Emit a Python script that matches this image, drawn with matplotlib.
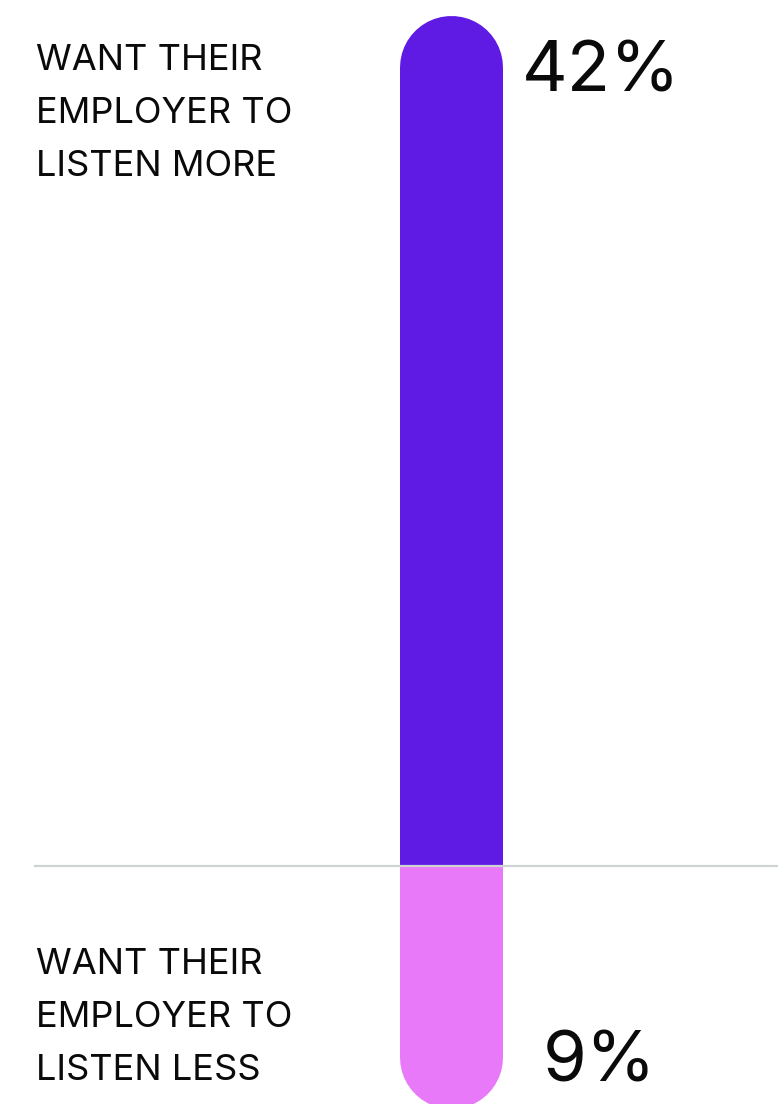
import matplotlib
matplotlib.use('Agg')
import matplotlib.pyplot as plt

labels = ['WANT THEIR\nEMPLOYER TO\nLISTEN MORE', 'WANT THEIR\nEMPLOYER TO\nLISTEN LESS']
values = [42, -9]
value_text = ['42%', '9%']
colors = ['#5F1BE4', '#E879F9']

W, H = 778, 1104
split = 866  # pixel row of the zero line
bar_w = 103  # px
x_bar = 451.5

plt.rcParams['font.family'] = ['Inter', 'DejaVu Sans']

fig = plt.figure(figsize=(W / 100, H / 100), dpi=100)

# upper part (positive) and lower part (negative) each have their own axes
ax_top = fig.add_axes([0, 1 - split / H, 1, split / H])
ax_bot = fig.add_axes([0, 0, 1, 1 - split / H])
for ax in (ax_top, ax_bot):
    ax.set_xlim(0, W)
    ax.axis('off')
ax_top.set_ylim(0, 45.55)
ax_bot.set_ylim(-11.2, 0)

lw = bar_w * 72 / 100
ax_top.plot([x_bar, x_bar], [-5, values[0]], color=colors[0], lw=lw,
            solid_capstyle='round')
ax_bot.plot([x_bar, x_bar], [5, values[1]], color=colors[1], lw=lw,
            solid_capstyle='round')

# zero line
fig.add_artist(plt.Line2D([35 / W, 1], [1 - split / H] * 2, color='#d0d3d4',
                          lw=1.6, transform=fig.transFigure))

# label lines placed one by one so the spacing matches
fs_lab = 26.1
step = 53
for lab, first in zip(labels, [70, 974]):
    for k, line in enumerate(lab.split('\n')):
        fig.text(36 / W, 1 - (first + k * step) / H, line, fontsize=fs_lab,
                 va='baseline', ha='left', color='#0a0a0a')

fs_val = 51
fig.text(522 / W, 1 - 92 / H, value_text[0], fontsize=fs_val, va='baseline',
         ha='left', color='#0a0a0a')
fig.text(543 / W, 1 - 1081 / H, value_text[1], fontsize=fs_val, va='baseline',
         ha='left', color='#0a0a0a')

fig.savefig('out.png', dpi=100, facecolor='white')
